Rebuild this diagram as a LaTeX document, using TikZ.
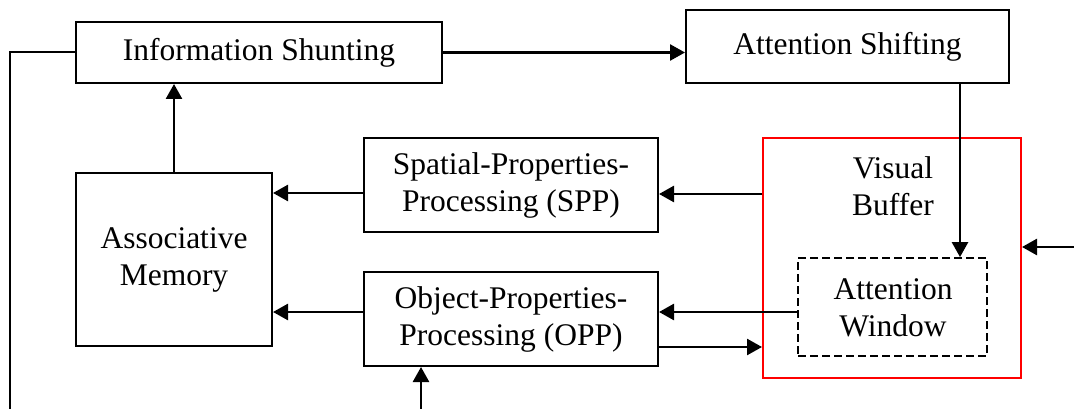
\documentclass[tikz,border=0pt]{standalone}
\usepackage{fontspec}
\setmainfont{Liberation Serif}
\usetikzlibrary{arrows.meta}
\tikzset{
  box/.style={draw, line width=2pt, inner sep=0pt, align=center, font=\fontsize{31.5}{37}\selectfont},
  redbox/.style={draw=red, line width=2pt, inner sep=0pt},
  dashbox/.style={draw, dashed, dash pattern=on 8pt off 4pt, line width=1.8pt, inner sep=0pt},
  lbl/.style={inner sep=0pt, align=center, font=\fontsize{31.5}{37}\selectfont},
  arr/.style={line width=2.6pt, -{Triangle[length=15pt,width=16pt]}},
  ln/.style={line width=2pt}
}
\begin{document}
\begin{tikzpicture}[x=1pt,y=-1pt]
\useasboundingbox (0,0) rectangle (1074,409);
\node[box, minimum width=366pt, minimum height=61pt] (is) at (259,52.5) {\raisebox{-2pt}{Information Shunting}};
\node[box, minimum width=323pt, minimum height=73pt] (as) at (847.5,46.5) {\raisebox{4pt}{Attention Shifting}};
\node[box, minimum width=294pt, minimum height=94pt] (spp) at (511,185) {Spatial-Properties-\\Processing (SPP)};
\node[box, minimum width=294pt, minimum height=94pt] (opp) at (511,319) {Object-Properties-\\Processing (OPP)};
\node[box, minimum width=196pt, minimum height=173pt] (am) at (174,259.5) {Associative\\Memory};
\node[redbox, minimum width=258pt, minimum height=240pt] (vb) at (892,258) {};
\node[lbl] (vbt) at (893,186) {Visual\\Buffer};
\node[dashbox, minimum width=189pt, minimum height=98pt] (aw) at (892.5,307) {};
\node[lbl] (awt) at (893,308) {Attention\\Window};
\coordinate (lb) at (10,409);
\coordinate (bin) at (421,409);
\coordinate (rin) at (1074,247);
\draw[ln] (is.west) -- (is.west -| lb) -- (lb);
\draw[arr] (is.east) -- (as.west |- is.east);
\draw[arr] ([xshift=112.5pt]as.south) -- ([xshift=112.5pt]as.south |- aw.north);
\draw[arr] (vb.west |- 0,194) -- (spp.east |- 0,194);
\draw[arr] (spp.west |- 0,193) -- (am.east |- 0,193);
\draw[arr] (am.north) -- (am.north |- is.south);
\draw[arr] (aw.west |- 0,312) -- (opp.east |- 0,312);
\draw[arr] (opp.west |- 0,312) -- (am.east |- 0,312);
\draw[arr] (opp.east |- 0,347) -- (vb.west |- 0,347);
\draw[arr] (bin) -- (bin |- opp.south);
\draw[arr] (rin) -- (rin -| vb.east);
\end{tikzpicture}
\end{document}
